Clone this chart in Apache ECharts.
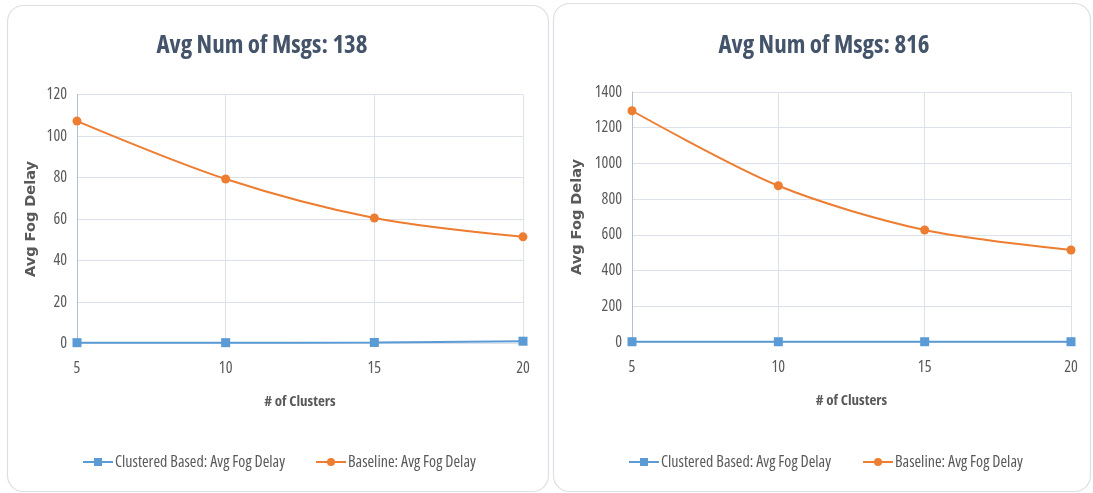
<!DOCTYPE html>
<html>
<head>
<meta charset="utf-8">
<script src="https://cdn.jsdelivr.net/npm/echarts@6/dist/echarts.min.js"></script>
<style>
  html, body { margin: 0; padding: 0; background: #ffffff; }
  #chart { width: 1093px; height: 493px; }
</style>
</head>
<body>
<div id="chart"></div>
<script>
// Number of clusters on the x axis
const clusters = [5, 10, 15, 20];

// Panel titles
const titles = ['Avg Num of Msgs: 138', 'Avg Num of Msgs: 816'];

// Series names
const nameClustered = 'Clustered Based: Avg Fog Delay';
const nameBaseline = 'Baseline: Avg Fog Delay';

// Axis names
const xName = '# of Clusters';
const yName = 'Avg Fog Delay';

// Average fog delay, panel 1 (138 messages)
const clustered138 = [0.4, 0.4, 0.5, 1.1];
const baseline138 = [107.2, 79.3, 60.5, 51.4];

// Average fog delay, panel 2 (816 messages)
const clustered816 = [1.5, 1.5, 1.5, 1.5];
const baseline816 = [1295, 875, 627, 515];

// Y axis ranges
const yMax = [120, 1400];
const yStep = [20, 200];

// Narrow face: Open Sans at its condensed width
const FONT = '"Open Sans", sans-serif';
const NARROW = 'condensed';
const TEXT = '#595959';
const GRID_LINE = '#dde2ea';
const BLUE = '#5b9bd5';
const ORANGE = '#ed7d31';

const pairs = (xs, ys) => xs.map((x, i) => [x, ys[i]]);

const grids = [
  { left: 77, right: 570, top: 94.5, bottom: 149.5 },
  { left: 632, right: 22, top: 92, bottom: 151 }
];
const titleCenters = [257, 819];
const panels = [
  { x: 7, y: 5, w: 541, h: 486 },
  { x: 553, y: 3, w: 537, h: 488 }
];

// One legend per entry so each sits where it belongs
const legendSpots = [
  { name: nameClustered, left: 77 },
  { name: nameBaseline, left: 310 },
  { name: nameClustered, left: 623 },
  { name: nameBaseline, left: 857 }
];

const option = {
  animation: false,
  backgroundColor: '#ffffff',
  graphic: panels.map(p => ({
    type: 'rect',
    shape: { x: p.x + 0.5, y: p.y + 0.5, width: p.w, height: p.h, r: 16 },
    style: { fill: '#ffffff', stroke: '#dcdfe4', lineWidth: 1.2 },
    z: -10
  })),
  title: titles.map((t, i) => ({
    text: t,
    left: titleCenters[i],
    textAlign: 'center',
    top: 28,
    textStyle: { fontFamily: FONT, fontStyle: NARROW, fontWeight: 'bold', fontSize: 25, color: '#44546a' }
  })),
  legend: legendSpots.map(s => ({
    data: [s.name],
    left: s.left,
    top: 449,
    itemWidth: 30, itemHeight: 10,
    textStyle: { fontFamily: FONT, fontStyle: NARROW, fontSize: 16, color: TEXT, padding: [0, 0, 0, -3] }
  })),
  grid: grids,
  xAxis: grids.map((g, i) => ({
    type: 'value',
    gridIndex: i,
    min: 5, max: 20, interval: 5,
    name: xName,
    nameLocation: 'middle',
    nameGap: 51,
    nameTextStyle: { fontFamily: FONT, fontStyle: NARROW, fontWeight: 'bold', fontSize: 15, color: TEXT },
    axisLine: { show: false },
    axisTick: { show: false },
    axisLabel: { fontFamily: FONT, fontStyle: NARROW, fontSize: 16, color: TEXT, margin: 17 },
    splitLine: { show: true, lineStyle: { color: GRID_LINE, width: 1 } }
  })),
  yAxis: grids.map((g, i) => ({
    type: 'value',
    gridIndex: i,
    min: 0, max: yMax[i], interval: yStep[i],
    name: yName,
    nameLocation: 'middle',
    nameRotate: 90,
    nameGap: i === 0 ? 38 : 47,
    nameTextStyle: { fontFamily: '"DejaVu Sans", sans-serif', fontWeight: 'bold', fontSize: 14.5, color: TEXT },
    axisLine: { show: true, lineStyle: { color: '#b4bfd0', width: 1 } },
    axisTick: { show: false },
    axisLabel: {
      fontFamily: FONT, fontStyle: NARROW, fontSize: 16, color: TEXT, margin: 10,
      formatter: v => String(v)
    },
    splitLine: { show: true, lineStyle: { color: GRID_LINE, width: 1 } }
  })),
  series: [
    {
      name: nameClustered, type: 'line', xAxisIndex: 0, yAxisIndex: 0,
      data: pairs(clusters, clustered138),
      symbol: 'rect', symbolSize: 9, smooth: 0.3,
      lineStyle: { color: BLUE, width: 2 }, itemStyle: { color: BLUE }, z: 3
    },
    {
      name: nameBaseline, type: 'line', xAxisIndex: 0, yAxisIndex: 0,
      data: pairs(clusters, baseline138),
      symbol: 'circle', symbolSize: 9, smooth: 0.3,
      lineStyle: { color: ORANGE, width: 2 }, itemStyle: { color: ORANGE }, z: 3
    },
    {
      name: nameClustered, type: 'line', xAxisIndex: 1, yAxisIndex: 1,
      data: pairs(clusters, clustered816),
      symbol: 'rect', symbolSize: 9, smooth: 0.3,
      lineStyle: { color: BLUE, width: 2 }, itemStyle: { color: BLUE }, z: 3
    },
    {
      name: nameBaseline, type: 'line', xAxisIndex: 1, yAxisIndex: 1,
      data: pairs(clusters, baseline816),
      symbol: 'circle', symbolSize: 9, smooth: 0.3,
      lineStyle: { color: ORANGE, width: 2 }, itemStyle: { color: ORANGE }, z: 3
    }
  ]
};

const chart = echarts.init(document.getElementById('chart'), null, { renderer: 'canvas' });
chart.setOption(option);
</script>
</body>
</html>
